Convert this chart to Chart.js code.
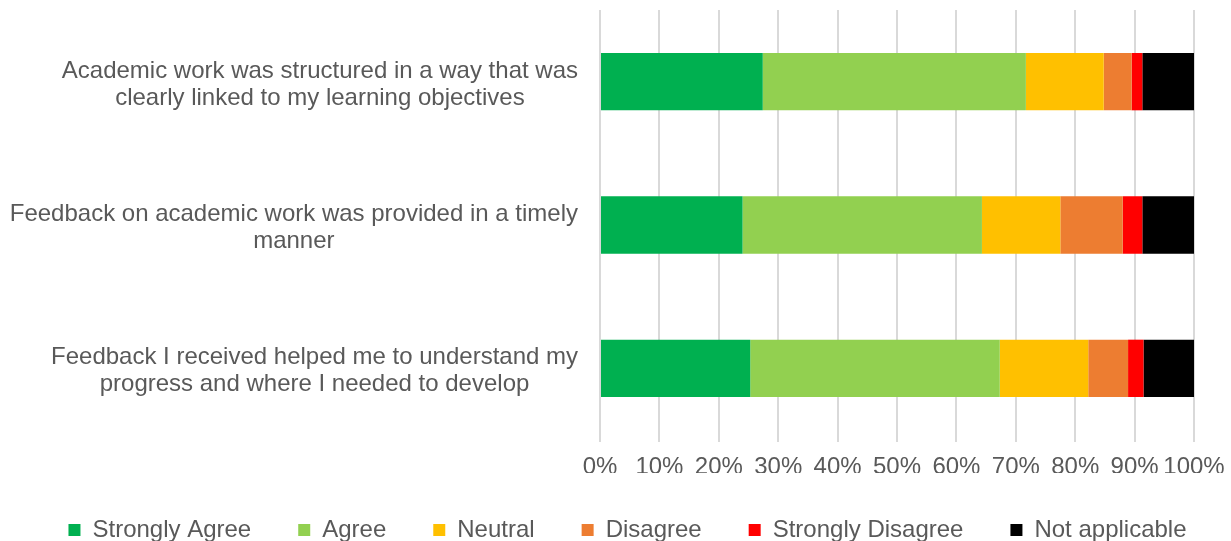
<!DOCTYPE html>
<html>
<head>
<meta charset="utf-8">
<script src="https://cdn.jsdelivr.net/npm/chart.js@4/dist/chart.umd.min.js"></script>
<style>
  html, body { margin: 0; padding: 0; background: #ffffff; }
  #wrap { width: 1231px; height: 541px; }
</style>
</head>
<body>
<div id="wrap"><canvas id="grafico"></canvas></div>
<script>
const categorias = [
    ['Academic work was structured in a way that was', 'clearly linked to my learning objectives'],
    ['Feedback on academic work was provided in a timely', 'manner'],
    ['Feedback I received helped me to understand my', 'progress and where I needed to develop']
];
const series = ['Strongly Agree', 'Agree', 'Neutral', 'Disagree', 'Strongly Disagree', 'Not applicable'];
const stronglyAgree = [27.4, 24.0, 25.3];
const agree = [44.3, 40.3, 42.0];
const neutral = [13.1, 13.2, 14.9];
const disagree = [4.7, 10.5, 6.7];
const stronglyDisagree = [1.8, 3.3, 2.6];
const notApplicable = [8.7, 8.7, 8.5];
const colores = ['#00b050', '#92d050', '#ffc000', '#ed7d31', '#ff0000', '#000000'];

const valores = [stronglyAgree, agree, neutral, disagree, stronglyDisagree, notApplicable];
const textoColor = '#595959';
const familia = '"Liberation Sans", Arial, sans-serif';
const fuente = { family: familia, size: 24 };

Chart.defaults.font.family = familia;
Chart.defaults.color = textoColor;

let datasets = series.map(function (nombre, i) {
    return {
        label: nombre,
        data: valores[i],
        backgroundColor: colores[i],
        borderWidth: 0,
        barPercentage: 0.4,
        categoryPercentage: 1.0
    };
});

// etiquetas del eje Y: bloque alineado a la derecha, lineas centradas
const etiquetasY = {
    id: 'etiquetasY',
    afterLayout: function (chart) {
        // la leyenda va un poco a la derecha y arriba, como en el original
        chart.legend.left += 12;
        chart.legend.right += 12;
        chart.legend.top -= 2;
        chart.legend.height += 2;
    },
    afterDraw: function (chart) {
        const ctx = chart.ctx;
        const escala = chart.scales.y;
        const derecha = escala.right - 22;
        const alto = 27;
        ctx.save();
        ctx.font = '24px ' + familia;
        ctx.fillStyle = textoColor;
        ctx.textAlign = 'center';
        ctx.textBaseline = 'middle';
        categorias.forEach(function (lineas, i) {
            let ancho = Math.max.apply(null, lineas.map(function (l) { return ctx.measureText(l).width; }));
            let cx = derecha - ancho / 2;
            let cy = escala.getPixelForValue(i) + 3;
            let y0 = cy - (lineas.length - 1) * alto / 2;
            lineas.forEach(function (l, j) {
                ctx.fillText(l, cx, y0 + j * alto);
            });
        });
        ctx.restore();
    }
};

var myChart = new Chart(document.getElementById('grafico'), {
    type: 'bar',
    data: {
        labels: categorias,
        datasets: datasets
    },
    options: {
        indexAxis: 'y',
        responsive: true,
        maintainAspectRatio: false,
        animation: false,
        layout: {
            padding: { top: 10, right: 0, left: 0, bottom: 0 }
        },
        scales: {
            x: {
                stacked: true,
                min: 0,
                max: 100,
                ticks: {
                    stepSize: 10,
                    color: textoColor,
                    font: fuente,
                    padding: 11,
                    maxRotation: 0,
                    minRotation: 0,
                    autoSkip: false,
                    callback: function (v) { return v + '%'; }
                },
                grid: {
                    color: '#d9d9d9',
                    lineWidth: 2,
                    tickLength: 2,
                    tickColor: '#d9d9d9'
                },
                border: { display: false },
                afterFit: function (scale) {
                    scale.height = 33;
                    scale.paddingRight = 37;
                }
            },
            y: {
                stacked: true,
                ticks: { display: false },
                grid: { display: false },
                border: { display: false },
                afterFit: function (scale) { scale.width = 600; }
            }
        },
        plugins: {
            legend: {
                position: 'bottom',
                maxHeight: 68,
                labels: {
                    color: textoColor,
                    font: fuente,
                    boxWidth: 12,
                    boxHeight: 12,
                    padding: 47
                }
            },
            tooltip: { enabled: false }
        }
    },
    plugins: [etiquetasY]
});
</script>
</body>
</html>
